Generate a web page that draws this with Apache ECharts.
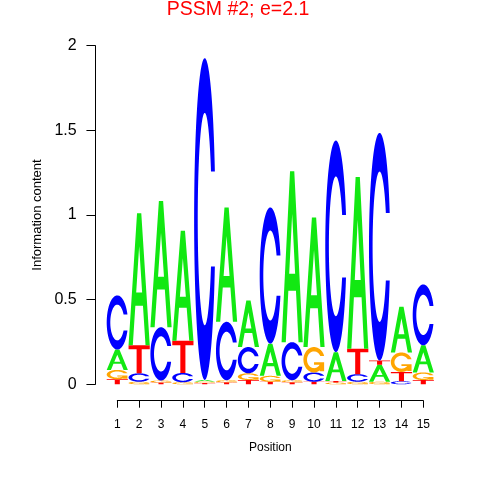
<!DOCTYPE html>
<html>
<head>
<meta charset="utf-8">
<script src="https://cdn.jsdelivr.net/npm/echarts@6/dist/echarts.min.js"></script>
<style>
html,body{margin:0;padding:0;background:#ffffff;}
#chart{width:480px;height:480px;}
</style>
</head>
<body>
<div id="chart"></div>
<script>
// ---- data ----
var chartTitle = "PSSM #2; e=2.1";
var positions = [1, 2, 3, 4, 5, 6, 7, 8, 9, 10, 11, 12, 13, 14, 15];
var heightA = [0.12, 0.78, 0.745, 0.65, 0.010, 0.675, 0.275, 0.19, 1.01, 0.765, 0.17, 1.015, 0.10, 0.27, 0.16];
var heightC = [0.32, 0.05, 0.315, 0.055, 1.90, 0.345, 0.155, 0.805, 0.225, 0.055, 1.25, 0.045, 1.345, 0.018, 0.36];
var heightG = [0.055, 0.015, 0.012, 0.012, 0.008, 0.012, 0.04, 0.035, 0.012, 0.15, 0.01, 0.015, 0.015, 0.115, 0.045];
var heightT = [0.03, 0.165, 0.010, 0.19, 0.008, 0.012, 0.025, 0.015, 0.012, 0.015, 0.01, 0.15, 0.025, 0.055, 0.025];
// stacking order of letters in each column, bottom to top
var stackOrder = ["TGAC", "GCTA", "TGCA", "GCTA", "TGAC", "TGCA", "TGCA", "TGAC", "TGCA", "TCGA", "GTAC", "GCTA", "GATC", "CTGA", "TGAC"];
var yTickValues = [0, 0.5, 1, 1.5, 2];

var letters = ["A", "C", "G", "T"];
var letterColors = {A: "#12E812", C: "#0000FF", G: "#FFA500", T: "#FF0000"};

// ---- build stacked logo data ----
var heights = {A: heightA, C: heightC, G: heightG, T: heightT};
var logoData = [];
positions.forEach(function (p, i) {
  var base = 0;
  stackOrder[i].split("").forEach(function (L) {
    var h = heights[L][i];
    logoData.push([p, base, base + h, letters.indexOf(L)]);
    base += h;
  });
});

// ---- letter outlines in a unit box (y up) ----
function area(p) {
  var s = 0;
  for (var i = 0; i < p.length; i++) {
    var a = p[i], b = p[(i + 1) % p.length];
    s += a[0] * b[1] - b[0] * a[1];
  }
  return s / 2;
}
function orient(p, positive) {
  return (area(p) > 0) === positive ? p : p.slice().reverse();
}
function ringPts(ri) {
  var a0 = Math.PI / 2 + 0.3, a1 = 1.5 * Math.PI, n = 60, i, a;
  var lower = [];
  for (i = 0; i <= n; i++) {
    a = a0 + (a1 - a0) * i / n;
    lower.push([0.5 + 0.5 * Math.sin(a), 0.5 + 0.5 * Math.cos(a)]);
  }
  var yTip = lower[0][1];
  var ai0 = Math.acos((yTip - 0.5) / ri);
  var innerLower = [];
  for (i = 0; i <= n; i++) {
    a = ai0 + (a1 - ai0) * i / n;
    innerLower.push([0.5 + ri * Math.sin(a), 0.5 + ri * Math.cos(a)]);
  }
  var outer = lower.concat(lower.slice().reverse().map(function (q) { return [q[0], 1 - q[1]]; }));
  var inner = innerLower.concat(innerLower.slice().reverse().map(function (q) { return [q[0], 1 - q[1]]; }));
  return outer.concat(inner.reverse());
}
var RI = 0.33;
var ring = ringPts(RI);
var r1 = 0.5 + 0.5 * Math.cos(0.3);
var shapes = [
  // A
  [orient([[0, 0], [0.4, 1], [0.6, 1], [1, 0], [0.8, 0], [0.68, 0.3], [0.32, 0.3], [0.2, 0]], true),
   orient([[0.36, 0.4], [0.64, 0.4], [0.5, 0.75]], false)],
  // C
  [orient(ring, true)],
  // G
  [orient(ring, true),
   orient([[r1, 0.4], [0.5, 0.4], [0.5, 0.3], [r1 - 0.2, 0.3], [r1 - 0.2, 0.05], [r1, 0.05]], true)],
  // T
  [orient([[0, 1], [1, 1], [1, 0.86], [0.62, 0.86], [0.62, 0], [0.38, 0], [0.38, 0.86], [0, 0.86]], true)]
];

var LETTER_W = 0.97;

function renderLetter(params, api) {
  var pos = api.value(0), y0 = api.value(1), y1 = api.value(2), li = api.value(3);
  var pA = api.coord([pos - LETTER_W / 2, y0]);
  var pB = api.coord([pos + LETTER_W / 2, y1]);
  var x0 = pA[0], yb = pA[1], w = pB[0] - pA[0], h = pA[1] - pB[1];
  var d = "";
  shapes[li].forEach(function (poly) {
    d += "M" + poly.map(function (q) {
      return (x0 + q[0] * w).toFixed(2) + " " + (yb - q[1] * h).toFixed(2);
    }).join(" L") + " Z ";
  });
  return {
    type: "path",
    shape: {pathData: d},
    style: {fill: letterColors[letters[li]], stroke: null}
  };
}

var FONT = "'Liberation Sans', Arial, Helvetica, sans-serif";
var chart = echarts.init(document.getElementById("chart"), null, {renderer: "canvas"});
chart.setOption({
  animation: false,
  backgroundColor: "#ffffff",
  title: {
    text: chartTitle,
    left: 238,
    textAlign: "center",
    top: 0,
    padding: 0,
    textStyle: {color: "#FF0000", fontSize: 19.5, fontWeight: "normal", fontFamily: FONT}
  },
  grid: [
    {left: 90.7, top: 45.7, width: 350, height: 338.6},
    {left: 117.3, top: 395, width: 306, height: 5.7}
  ],
  xAxis: [
    {type: "value", gridIndex: 0, min: -0.217, max: 15.796, show: false},
    {
      type: "value", gridIndex: 1, min: 1, max: 15, interval: 1,
      axisLine: {show: true, onZero: false, lineStyle: {color: "#000", width: 1}},
      axisTick: {show: true, length: 7, inside: false, lineStyle: {color: "#000"}},
      axisLabel: {show: true, margin: 18, fontSize: 12, color: "#000", fontFamily: FONT},
      splitLine: {show: false},
      name: "Position", nameLocation: "middle", nameGap: 41,
      nameTextStyle: {fontSize: 12, color: "#000", fontFamily: FONT}
    }
  ],
  yAxis: [
    {
      type: "value", gridIndex: 0, min: yTickValues[0], max: yTickValues[yTickValues.length - 1], interval: 0.5,
      axisLine: {show: true, lineStyle: {color: "#000", width: 1}},
      axisTick: {show: true, length: 9, inside: false, lineStyle: {color: "#000"}},
      axisLabel: {show: true, margin: 14, fontSize: 16, color: "#000", fontFamily: FONT},
      splitLine: {show: false},
      name: "Information content", nameLocation: "middle", nameGap: 46,
      nameTextStyle: {fontSize: 13, color: "#000", fontFamily: FONT}
    },
    {type: "value", gridIndex: 1, min: 0, max: 1, show: false}
  ],
  series: [
    {
      type: "custom",
      xAxisIndex: 0,
      yAxisIndex: 0,
      clip: false,
      renderItem: renderLetter,
      encode: {x: 0, y: [1, 2]},
      data: logoData
    }
  ]
});
</script>
</body>
</html>
